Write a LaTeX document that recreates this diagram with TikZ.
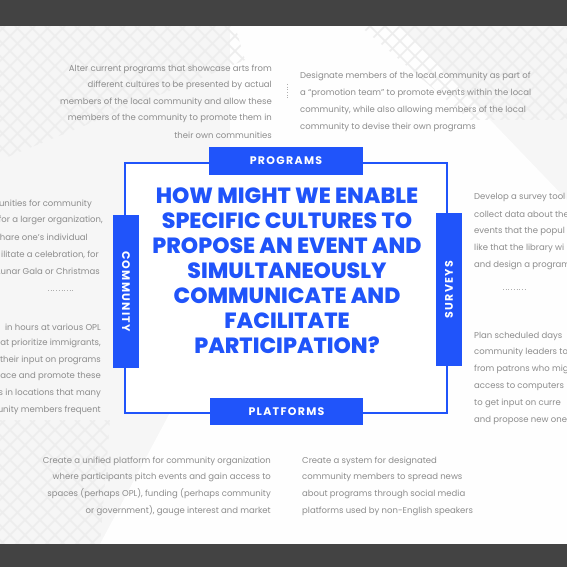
\documentclass[tikz,border=0pt]{standalone}
\usepackage{fontspec}
\setmainfont{Poppins}
\newfontfamily\titlefont{Poppins ExtraBold}
\definecolor{hblue}{RGB}{32,84,250}
\definecolor{gtext}{RGB}{140,140,140}
\definecolor{darkbar}{RGB}{67,67,67}
\definecolor{bgray}{RGB}{246,246,246}
\definecolor{pat}{RGB}{237,237,237}
\begin{document}
\begin{tikzpicture}[x=1pt,y=-1pt,
  gtxt/.style={inner sep=0pt,text=gtext,font=\fontsize{8.5}{10}\selectfont},
  lbl/.style={fill=hblue,text=white,inner sep=0pt,font=\fontsize{11}{12}\selectfont\bfseries\addfontfeatures{LetterSpace=12}},
  frame/.style={draw=hblue,line width=1.8pt},
  sep/.style={draw=gtext!70,line width=0.7pt,dotted}]
\useasboundingbox (0,0) rectangle (567,567);
\begin{scope}
\clip (0,0) rectangle (567,567);
% background
\fill[bgray] (0,26) rectangle (567,544);
\fill[white!99!gray] (230,26) -- (400,26) -- (567,200) -- (567,544) -- (100,544) -- (230,300) -- cycle;
\begin{scope}
\clip (0,26) -- (235,26) -- (245,60) -- (0,160) -- cycle;
\foreach \k in {-300,-285,...,300} {\draw[pat,line width=1.5pt] (\k,26) -- ++(200,200); \draw[pat,line width=1.5pt] (\k+200,26) -- ++(-200,200);}
\end{scope}
\begin{scope}
\clip (360,26) -- (567,26) -- (567,120) -- (470,120) -- cycle;
\foreach \k in {100,115,...,800} {\draw[pat,line width=1.5pt] (\k,26) -- ++(200,200); \draw[pat,line width=1.5pt] (\k,26) -- ++(-200,200);}
\end{scope}
\begin{scope}
\clip (0,420) -- (110,420) -- (100,544) -- (0,544) -- cycle;
\foreach \k in {-300,-285,...,300} {\draw[pat,line width=1.5pt] (\k,420) -- ++(200,200); \draw[pat,line width=1.5pt] (\k+200,420) -- ++(-200,200);}
\end{scope}
\fill[white] (125,163) rectangle (447,413);
% dark bars
\fill[darkbar] (0,0) rectangle (567,26);
\fill[darkbar] (0,544) rectangle (567,567);

% frame
\coordinate (ftl) at (125,163);
\coordinate (ftr) at (447,163);
\coordinate (fbr) at (447,413);
\coordinate (fbl) at (125,413);
\draw[frame] (ftl) -- (ftr) -- (fbr) -- (fbl) -- cycle;

\node[lbl,minimum width=154pt,minimum height=28pt] (prog) at (286,161) {PROGRAMS};
\node[lbl,minimum width=153pt,minimum height=27pt] (plat) at (286.5,411.5) {PLATFORMS};
\node[lbl,minimum width=153pt,minimum height=26pt,rotate=-90] (comm) at (126,291.5) {COMMUNITY};
\node[lbl,minimum width=153pt,minimum height=26pt,rotate=90] (surv) at (449,289.5) {SURVEYS};

\node[inner sep=0pt,text=hblue,align=center,font=\fontsize{22}{25}\selectfont\titlefont] (title) at (287,270.5)
 {HOW MIGHT WE ENABLE\\SPECIFIC CULTURES TO\\PROPOSE AN EVENT AND\\SIMULTANEOUSLY\\COMMUNICATE AND\\FACILITATE\\PARTICIPATION?};

% top-left paragraph
\foreach \t [count=\i] in {Alter current programs that showcase arts from,
  different cultures to be presented by actual,
  members of the local community and allow these,
  members of the community to promote them in,
  their own communities}
  \node[gtxt,anchor=east] (tl\i) at (272,{69+16.5*(\i-1)}) {\t};
% top-right paragraph
\foreach \t [count=\i] in {Designate members of the local community as part of,
  a “promotion team” to promote events within the local,
  {community, while also allowing members of the local},
  community to devise their own programs}
  \node[gtxt,anchor=west] (tr\i) at (300,{76+17.3*(\i-1)}) {\t};
% left middle (cut by the left edge in the picture)
\foreach \t/\e [count=\i] in {unities for community/92,
  {for a larger organization,}/103,
  hare one’s individual/88,
  {ilitate a celebration, for}/99,
  Lunar Gala or Christmas/100}
  \node[gtxt,anchor=east] (lm\i) at (\e,{204+16.8*(\i-1)}) {\t};
% left bottom
\foreach \t [count=\i] in {in hours at various OPL,
  {at prioritize immigrants,},
  their input on programs,
  ace and promote these,
  s in locations that many,
  unity members frequent}
  \node[gtxt,anchor=east] (lb\i) at (101,{327+16.6*(\i-1)}) {\t};
% right middle (cut by the right edge in the picture)
\foreach \t [count=\i] in {Develop a survey tool,
  collect data about the,
  events that the popul,
  like that the library wi,
  and design a program}
  \node[gtxt,anchor=west] (rm\i) at (474,{197+17*(\i-1)}) {\t};
% right bottom
\foreach \t [count=\i] in {Plan scheduled days,
  community leaders to,
  from patrons who mig,
  access to computers,
  to get input on  curre,
  and propose new one}
  \node[gtxt,anchor=west] (rb\i) at (474,{336+16.8*(\i-1)}) {\t};
% bottom-left
\foreach \t [count=\i] in {Create a unified platform for community organization,
  where participants pitch events and gain access to,
  {spaces (perhaps OPL), funding (perhaps community},
  {or government), gauge interest and market}}
  \node[gtxt,anchor=east] (bl\i) at (271,{461+16.5*(\i-1)}) {\t};
% bottom-right
\foreach \t [count=\i] in {Create a system for designated,
  community members to spread news,
  about programs through social media,
  platforms used by non-English speakers}
  \node[gtxt,anchor=west] (br\i) at (302,{461+16.7*(\i-1)}) {\t};

% separators
\coordinate (s1a) at (287,84); \coordinate (s1b) at (287,100);
\draw[sep] (s1a) -- (s1b);
\coordinate (s2a) at (48,290); \coordinate (s2b) at (73,290);
\draw[sep] (s2a) -- (s2b);
\coordinate (s3a) at (503,289); \coordinate (s3b) at (527,289);
\draw[sep] (s3a) -- (s3b);
\end{scope}
\end{tikzpicture}
\end{document}
